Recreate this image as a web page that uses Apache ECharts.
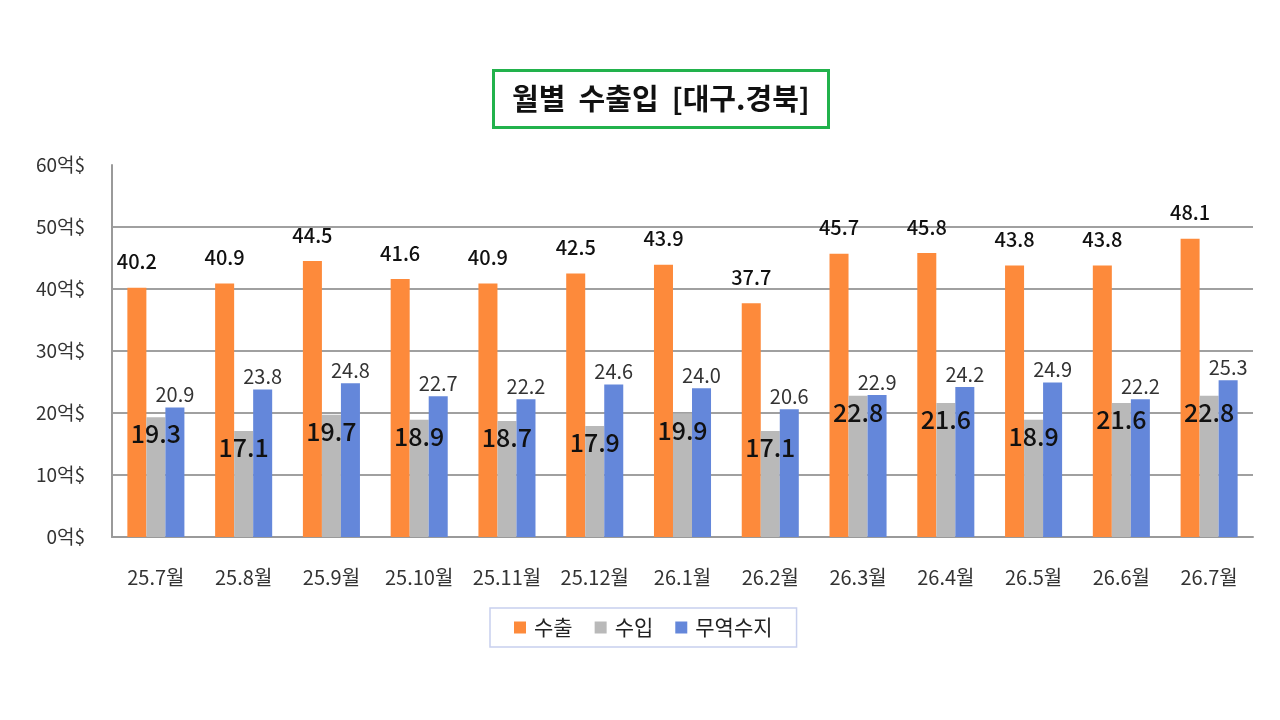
<!DOCTYPE html>
<html>
<head>
<meta charset="utf-8">
<script src="https://cdn.jsdelivr.net/npm/echarts@6/dist/echarts.min.js"></script>
<style>
  html, body { margin: 0; padding: 0; background: #fff; }
  #chart { width: 1280px; height: 720px; }
</style>
</head>
<body>
<div id="chart"></div>
<script>
// months (x axis)
const months = ['25.7월', '25.8월', '25.9월', '25.10월', '25.11월', '25.12월', '26.1월',
  '26.2월', '26.3월', '26.4월', '26.5월', '26.6월', '26.7월'];
// values in 억$
const exportVals = [40.2, 40.9, 44.5, 41.6, 40.9, 42.5, 43.9, 37.7, 45.7, 45.8, 43.8, 43.8, 48.1];
const importVals = [19.3, 17.1, 19.7, 18.9, 18.7, 17.9, 19.9, 17.1, 22.8, 21.6, 18.9, 21.6, 22.8];
const balanceVals = [20.9, 23.8, 24.8, 22.7, 22.2, 24.6, 24.0, 20.6, 22.9, 24.2, 24.9, 22.2, 25.3];
const seriesNames = ['수출', '수입', '무역수지'];

const FONT = '"Noto Sans CJK KR", "Noto Sans", sans-serif';

const chart = echarts.init(document.getElementById('chart'));

chart.setOption({
  backgroundColor: '#fff',
  textStyle: { fontFamily: FONT },
  title: {
    text: '월별  수출입  [대구.경북]',
    left: 493,
    top: 70,
    padding: [12, 19, 12, 19],
    borderColor: '#22b24c',
    borderWidth: 3,
    textStyle: { fontFamily: FONT, fontSize: 29, lineHeight: 34, fontWeight: 'bold', color: '#111' }
  },
  legend: {
    data: seriesNames,
    left: 490,
    top: 608,
    padding: [9, 24, 9, 24],
    borderColor: '#c8d0ee',
    borderWidth: 1.5,
    icon: 'rect',
    itemWidth: 12,
    itemHeight: 12,
    itemGap: 22,
    textStyle: { fontFamily: FONT, fontSize: 21, color: '#222', padding: [0, 0, 0, 3] }
  },
  grid: { left: 112, right: 27, top: 165, bottom: 183 },
  xAxis: {
    type: 'category',
    data: months,
    axisTick: { show: false },
    axisLine: { lineStyle: { color: '#9a9a9a', width: 2 } },
    axisLabel: { interval: 0, hideOverlap: false, margin: 30, fontSize: 20, color: '#333', fontFamily: FONT }
  },
  yAxis: {
    type: 'value',
    min: 0,
    max: 60,
    interval: 10,
    axisLine: { show: true, lineStyle: { color: '#9a9a9a', width: 2 } },
    axisTick: { show: false },
    splitLine: { showMaxLine: false, lineStyle: { color: '#a0a0a0', width: 2 } },
    axisLabel: {
      margin: 27,
      fontSize: 19,
      color: '#333',
      fontFamily: FONT,
      formatter: v => v + '억$'
    }
  },
  series: [
    {
      name: seriesNames[0],
      type: 'bar',
      data: exportVals,
      barGap: '0%',
      barCategoryGap: '35%',
      itemStyle: { color: '#fd8a3b' },
      label: {
        show: true,
        position: 'top',
        distance: 16,
        fontSize: 20,
        fontWeight: 500,
        color: '#111',
        fontFamily: FONT,
        formatter: p => p.value.toFixed(1)
      }
    },
    {
      name: seriesNames[1],
      type: 'bar',
      data: importVals,
      itemStyle: { color: '#b9b9b9' },
      label: {
        show: true,
        position: 'insideTop',
        distance: 4,
        fontSize: 25,
        fontWeight: 500,
        color: '#111',
        fontFamily: FONT,
        formatter: p => p.value.toFixed(1)
      }
    },
    {
      name: seriesNames[2],
      type: 'bar',
      data: balanceVals,
      itemStyle: { color: '#6487da' },
      label: {
        show: true,
        position: 'top',
        distance: 3,
        fontSize: 20,
        color: '#333',
        fontFamily: FONT,
        formatter: p => p.value.toFixed(1)
      }
    }
  ]
});
</script>
</body>
</html>
